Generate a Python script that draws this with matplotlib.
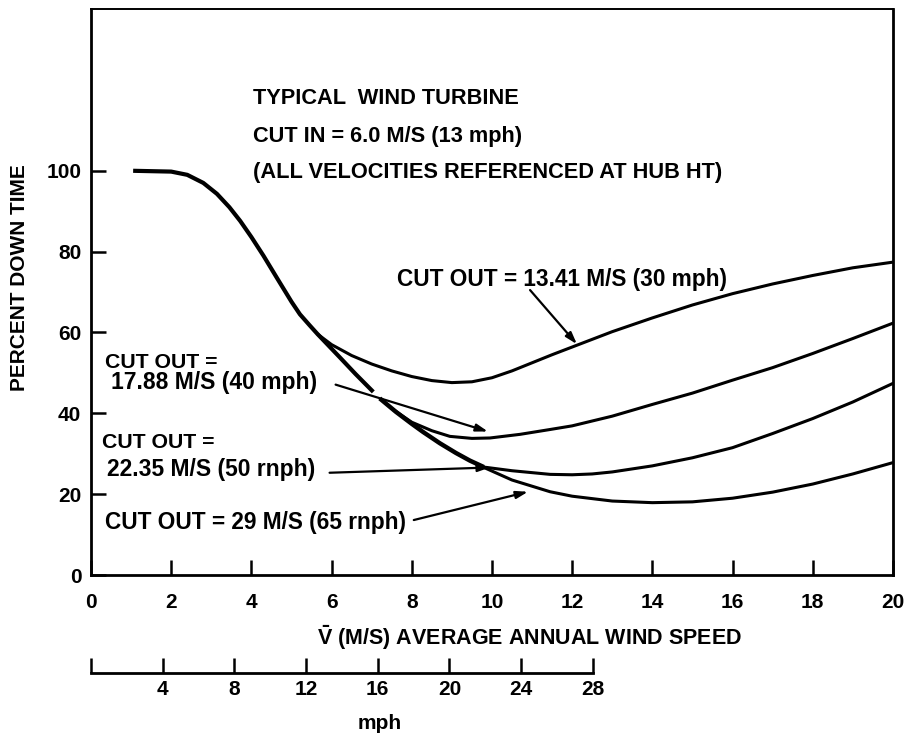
import numpy as np
import matplotlib.pyplot as plt

plt.rcParams['font.family'] = ['Liberation Sans', 'DejaVu Sans']
plt.rcParams['font.weight'] = 'bold'
plt.rcParams['axes.labelweight'] = 'bold'
plt.rcParams['mathtext.fontset'] = 'custom'
plt.rcParams['mathtext.rm'] = 'Liberation Sans:bold'
plt.rcParams['mathtext.bf'] = 'Liberation Sans:bold'

MPH_PER_MS = 2.23694

# shared envelope (all cut-out speeds follow it until they branch off)
env_upper_x = [1.05, 2.0, 2.4, 2.8, 3.14, 3.45, 3.72, 4.0, 4.3, 4.63, 5.0, 5.21, 5.45, 5.65, 6.2, 6.6, 7.04]
env_upper_y = [100, 99.8, 99.0, 97.0, 94.3, 91.0, 87.6, 83.6, 79.0, 73.6, 67.6, 64.5, 61.8, 59.6, 53.9, 49.7, 45.3]
env_lower_x = [7.2, 7.6, 8.0, 8.28, 8.7, 9.1, 9.45, 9.8]
env_lower_y = [43.7, 40.4, 37.4, 35.4, 32.6, 30.2, 28.3, 26.7]

# cut out = 13.41 m/s (30 mph)
co30_x = [5.65, 6.0, 6.5, 7.0, 7.5, 8.0, 8.5, 9.0, 9.5, 10.0, 10.5, 11.0, 11.5, 12, 13, 14, 15, 16, 17, 18, 19, 20]
co30_y = [59.6, 57.0, 54.3, 52.2, 50.5, 49.1, 48.1, 47.6, 47.8, 48.8, 50.5, 52.5, 54.5, 56.4, 60.2, 63.6, 66.8, 69.6, 72.0, 74.1, 76.0, 77.4]

# cut out = 17.88 m/s (40 mph)
co40_x = [7.54, 8.0, 8.5, 8.95, 9.5, 9.95, 10.7, 11.45, 12, 13, 14, 15, 16, 17, 18, 19, 20]
co40_y = [40.9, 37.8, 35.7, 34.3, 33.8, 33.9, 34.8, 36.0, 36.9, 39.3, 42.2, 45.0, 48.2, 51.3, 54.8, 58.5, 62.3]

# cut out = 22.35 m/s (50 mph)
co50_x = [9.8, 10.5, 11.45, 12, 12.5, 13, 14, 15, 16, 17, 18, 19, 20]
co50_y = [26.7, 25.8, 24.9, 24.8, 25.0, 25.5, 27.0, 29.0, 31.5, 35.0, 38.7, 42.8, 47.4]

# cut out = 29 m/s (65 mph)
co65_x = [9.8, 10.5, 11.45, 12, 13, 14, 15, 16, 17, 18, 19, 20]
co65_y = [26.6, 23.5, 20.6, 19.5, 18.3, 17.9, 18.1, 19.0, 20.5, 22.5, 25.0, 27.8]

x_ticks = list(range(0, 21, 2))
y_ticks = list(range(0, 101, 20))
mph_ticks = [0, 4, 8, 12, 16, 20, 24, 28]
mph_labels = ['', '4', '8', '12', '16', '20', '24', '28']

fig = plt.figure(figsize=(9.05, 7.34), dpi=100)
ax = fig.add_axes([0.1006, 0.2166, 0.886, 0.771])

ax.plot(env_upper_x, env_upper_y, color='black', lw=3.0, solid_capstyle='butt')
ax.plot(env_lower_x, env_lower_y, color='black', lw=3.2, solid_capstyle='butt')
for xs, ys in [(co30_x, co30_y), (co40_x, co40_y), (co50_x, co50_y), (co65_x, co65_y)]:
    ax.plot(xs, ys, color='black', lw=2.2, solid_capstyle='round')

ax.set_xlim(0, 20)
ax.set_ylim(0, 140)
ax.set_xticks(x_ticks)
ax.set_yticks(y_ticks)
ax.tick_params(direction='in', length=11, width=1.8, labelsize=15)
ax.tick_params(axis='x', pad=13)
ax.tick_params(axis='y', pad=7)
for side in ['left', 'bottom', 'right']:
    ax.spines[side].set_linewidth(2.0)
ax.spines['top'].set_linewidth(1.4)

ax.set_ylabel('PERCENT DOWN TIME', fontsize=15)
ax.yaxis.set_label_coords(-0.078, 0.525)
ax.set_xlabel(r'$\mathbf{\bar{V}}$ (M/S) AVERAGE ANNUAL WIND SPEED', fontsize=15.5)
ax.xaxis.set_label_coords(0.547, -0.086)

# mph scale under the m/s axis
sec = ax.secondary_xaxis(-0.173, functions=(lambda v: v * MPH_PER_MS, lambda v: v / MPH_PER_MS))
sec.set_xticks(mph_ticks)
sec.set_xticklabels(mph_labels)
sec.spines['bottom'].set_bounds(0, 28)
sec.spines['bottom'].set_linewidth(2.0)
sec.tick_params(direction='in', length=11, width=1.8, labelsize=15, pad=5)
ax.text(0.36, -0.262, 'mph', transform=ax.transAxes, fontsize=15, ha='center', va='center')

# header block
ax.text(4.04, 117.8, 'TYPICAL  WIND TURBINE', fontsize=15.7, va='center')
ax.text(4.04, 108.6, 'CUT IN = 6.0 M/S (13 mph)', fontsize=15.7, va='center')
ax.text(4.04, 99.6, '(ALL VELOCITIES REFERENCED AT HUB HT)', fontsize=15.7, va='center')

# curve labels
ax.text(7.63, 73.2, 'CUT OUT = 13.41 M/S (30 mph)', fontsize=16.3, va='center')
ax.text(0.35, 52.6, 'CUT OUT =', fontsize=15.3, va='center')
ax.text(0.5, 47.6, '17.88 M/S (40 mph)', fontsize=16.5, va='center')
ax.text(0.27, 32.8, 'CUT OUT =', fontsize=15.3, va='center')
ax.text(0.4, 26.0, '22.35 M/S (50 rnph)', fontsize=16.5, va='center')
ax.text(0.35, 12.9, 'CUT OUT = 29 M/S (65 rnph)', fontsize=16.3, va='center')

arrow = dict(arrowstyle='-|>,head_length=0.7,head_width=0.22', color='black',
             lw=1.6, shrinkA=0, shrinkB=0)
ax.annotate('', xy=(12.12, 57.1), xytext=(10.95, 70.5), arrowprops=arrow)
ax.annotate('', xy=(9.9, 35.5), xytext=(6.1, 47.1), arrowprops=arrow)
ax.annotate('', xy=(9.95, 26.6), xytext=(5.95, 25.3), arrowprops=arrow)
ax.annotate('', xy=(10.9, 20.6), xytext=(8.05, 13.6), arrowprops=arrow)

plt.savefig('out.png', dpi=100)
